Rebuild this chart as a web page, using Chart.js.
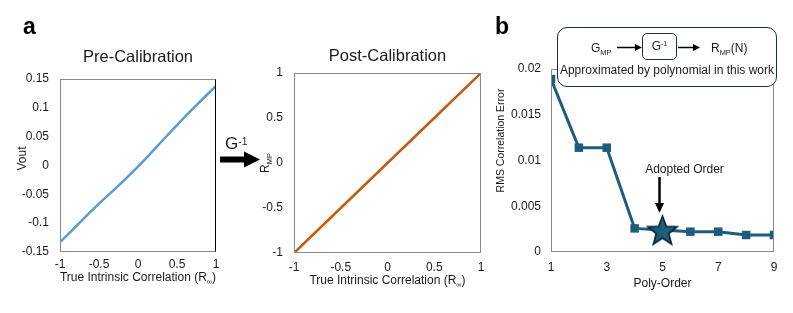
<!DOCTYPE html>
<html>
<head>
<meta charset="utf-8">
<script src="https://cdn.jsdelivr.net/npm/chart.js@4.4.1/dist/chart.umd.min.js"></script>
<style>
  body { margin: 0; background: #fff; font-family: 'Liberation Sans', Arial, sans-serif; color: #1a1a1a; }
  #fig { position: relative; width: 793px; height: 313px; overflow: hidden; }
  #fig canvas { position: absolute; top: 0; }
  .panel { position: absolute; top: 15px; font-weight: bold; font-size: 23px; line-height: 23px; color: #000; }
  #ginv { position: absolute; left: 225px; top: 134px; font-size: 17px; line-height: 20px; }
  #ginv sup, .box sup { font-size: 60%; vertical-align: top; position: relative; top: -2px; }
  #inset { position: absolute; left: 557px; top: 27px; width: 220px; height: 60px; box-sizing: border-box;
           border: 1.5px solid #17313f; border-radius: 10px; background: #fff; font-size: 12px; }
  #inset .t { position: absolute; line-height: 14px; white-space: nowrap; }
  #inset sub { font-size: 62%; vertical-align: baseline; position: relative; top: 3px; }
  #inset .box { position: absolute; left: 84px; top: 4.5px; width: 35px; height: 27px; box-sizing: border-box;
                border: 1.5px solid #17313f; border-radius: 5px; text-align: center; line-height: 24px; }
  svg { position: absolute; left: 0; top: 0; }
</style>
</head>
<body>
<div id="fig">
  <canvas id="preChart" width="240" height="313" style="left:0"></canvas>
  <canvas id="postChart" width="260" height="313" style="left:240px"></canvas>
  <canvas id="orderChart" width="303" height="313" style="left:490px"></canvas>

  <div class="panel" style="left:23px">a</div>
  <div class="panel" style="left:495px">b</div>
  <div id="ginv">G<sup>-1</sup></div>

  <div id="inset">
    <span class="t" style="left:33px;top:13px">G<sub>MP</sub></span>
    <div class="box">G<sup>-1</sup></div>
    <span class="t" style="left:153px;top:13px">R<sub>MP</sub>(N)</span>
    <span class="t" style="left:0;right:0;top:35px;text-align:center">Approximated by polynomial in this work</span>
  </div>

  <svg width="793" height="313">
    <rect x="220" y="156.5" width="26" height="6" fill="#000"/>
    <polygon points="244,151.5 260,159.5 244,167.5" fill="#000"/>
    <line x1="617" y1="47.5" x2="636" y2="47.5" stroke="#000" stroke-width="1.5"/>
    <polygon points="635,44 642,47.5 635,51" fill="#000"/>
    <line x1="678" y1="47.5" x2="694" y2="47.5" stroke="#000" stroke-width="1.5"/>
    <polygon points="693,44 700,47.5 693,51" fill="#000"/>
  </svg>
</div>

<script>
// ---- data ----
const preX = [-1, -0.75, -0.5, -0.25, 0, 0.25, 0.5, 0.75, 1];
const preY = [-0.133, -0.0995, -0.066, -0.035, -0.002, 0.034, 0.07, 0.1045, 0.138];
const preXTicks = [-1, -0.5, 0, 0.5, 1];
const preYTicks = [-0.15, -0.1, -0.05, 0, 0.05, 0.1, 0.15];

const postX = [-1, -0.5, 0, 0.5, 1];
const postY = [-1, -0.5, 0, 0.5, 1];
const postXTicks = [-1, -0.5, 0, 0.5, 1];
const postYTicks = [-1, -0.5, 0, 0.5, 1];

const polyOrder = [1, 2, 3, 4, 5, 6, 7, 8, 9];
const rmsError = [0.0189, 0.0114, 0.0114, 0.00258, 0.0024, 0.00222, 0.00222, 0.00186, 0.00186];
const orderXTicks = [1, 3, 5, 7, 9];
const orderYTicks = [0, 0.005, 0.01, 0.015, 0.02];
const adoptedOrder = 5;

const FONT = "'Liberation Sans', Arial, sans-serif";
const TEXT = '#1a1a1a';
const FRAME = '#8a8a8a';

// number labels like Excel: 0.1, -0.05, 0
const fmt = (v) => String(parseFloat(Number(v).toFixed(4)));

// text with subscripts, centred on (cx, cy)
function drawRich(ctx, parts, cx, cy, size, rot) {
  ctx.save();
  ctx.translate(cx, cy);
  ctx.rotate(rot);
  const fontFor = (p) => `${p.sub ? size * 0.62 : size}px ${FONT}`;
  let total = 0;
  parts.forEach((p) => { ctx.font = fontFor(p); total += ctx.measureText(p.t).width; });
  let x = -total / 2;
  ctx.fillStyle = TEXT;
  ctx.textAlign = 'left';
  ctx.textBaseline = 'alphabetic';
  parts.forEach((p) => {
    ctx.font = fontFor(p);
    ctx.fillText(p.t, x, size * 0.36 + (p.sub ? size * 0.24 : 0));
    x += ctx.measureText(p.t).width;
  });
  ctx.restore();
}

const axisTitles = {
  id: 'axisTitles',
  afterDraw(chart, args, opts) {
    const { ctx, chartArea: a } = chart;
    const x = opts.x, y = opts.y;
    if (x) drawRich(ctx, x.parts, (a.left + a.right) / 2, a.bottom + x.gap, x.size || 12, 0);
    if (y) drawRich(ctx, y.parts, a.left - y.gap, (a.top + a.bottom) / 2 + (y.shift || 0), y.size || 12, -Math.PI / 2);
  }
};

const frame = {
  id: 'frame',
  afterDatasetsDraw(chart, args, opts) {
    const { ctx, chartArea: a } = chart;
    const l = Math.round(a.left) + 0.5, r = Math.round(a.right) - 0.5;
    const t = Math.round(a.top) + 0.5, b = Math.round(a.bottom) - 0.5;
    ctx.save();
    ctx.lineWidth = 1;
    ctx.strokeStyle = opts.color || FRAME;
    ctx.strokeRect(l, t, r - l, b - t);
    if (opts.right) {
      ctx.strokeStyle = opts.right;
      ctx.beginPath(); ctx.moveTo(r, t); ctx.lineTo(r, b); ctx.stroke();
    }
    ctx.restore();
  }
};

const adopted = {
  id: 'adopted',
  afterDraw(chart, args, opts) {
    const pt = chart.getDatasetMeta(0).data[opts.index];
    if (!pt) return;
    const { ctx } = chart;
    const x = pt.x - 3, y = pt.y;
    ctx.save();
    ctx.strokeStyle = '#000';
    ctx.fillStyle = '#000';
    ctx.lineWidth = 2.5;
    ctx.beginPath(); ctx.moveTo(x, y - 53); ctx.lineTo(x, y - 26); ctx.stroke();
    ctx.beginPath(); ctx.moveTo(x - 4.5, y - 27); ctx.lineTo(x + 4.5, y - 27); ctx.lineTo(x, y - 17); ctx.closePath(); ctx.fill();
    ctx.font = `12px ${FONT}`;
    ctx.textAlign = 'center';
    ctx.textBaseline = 'middle';
    ctx.fillStyle = TEXT;
    ctx.fillText(opts.label, x + 25, y - 60);
    ctx.restore();
  }
};

// five-point star used as the marker for the adopted order
function makeStar(outer, inner, fill, stroke) {
  const c = document.createElement('canvas');
  c.width = c.height = Math.ceil(outer * 2 + 4);
  const g = c.getContext('2d');
  const cx = c.width / 2, cy = c.height / 2 + 1.5;
  g.beginPath();
  for (let i = 0; i < 10; i++) {
    const r = i % 2 === 0 ? outer : inner;
    const ang = -Math.PI / 2 + i * Math.PI / 5;
    g.lineTo(cx + r * Math.cos(ang), cy + r * Math.sin(ang));
  }
  g.closePath();
  g.fillStyle = fill;
  g.fill();
  g.lineWidth = 1.6;
  g.strokeStyle = stroke;
  g.stroke();
  return c;
}

function linScale(min, max, ticks, opts) {
  return {
    type: 'linear',
    min: min,
    max: max,
    grid: { display: false, drawTicks: false },
    border: { display: false },
    afterBuildTicks: (s) => { s.ticks = ticks.map((v) => ({ value: v })); },
    ticks: { color: TEXT, font: { size: 12 }, padding: opts.pad, callback: fmt, maxRotation: 0 },
    afterFit: (s) => { if (opts.width) s.width = opts.width; if (opts.height) s.height = opts.height; }
  };
}

Chart.defaults.font.family = FONT;
Chart.defaults.color = TEXT;

const baseOptions = {
  responsive: false,
  animation: false,
  devicePixelRatio: 1,
  events: []
};

// titles sit over the plot only (fullSize false), not over the whole canvas
const chartTitle = (text, below) => ({
  display: true,
  text: text,
  color: TEXT,
  fullSize: false,
  font: { size: 16.5, weight: 'normal' },
  padding: { top: 0, bottom: below }
});

// Pre-Calibration
new Chart(document.getElementById('preChart'), {
  type: 'line',
  data: {
    datasets: [{
      data: preX.map((x, i) => ({ x: x, y: preY[i] })),
      borderColor: '#5b9bd5',
      borderWidth: 2.5,
      pointRadius: 0,
      tension: 0.4
    }]
  },
  options: {
    ...baseOptions,
    layout: { padding: { left: 0, right: 24, top: 48, bottom: 28 } },
    plugins: {
      legend: { display: false },
      tooltip: { enabled: false },
      title: chartTitle('Pre-Calibration', 11.2),
      frame: { right: '#000' },
      axisTitles: {
        x: { parts: [{ t: 'True Intrinsic Correlation (R' }, { t: '\u221e', sub: true }, { t: ')' }], gap: 25 },
        y: { parts: [{ t: 'Vout' }], gap: 38, shift: -7 }
      }
    },
    scales: {
      x: linScale(-1, 1, preXTicks, { pad: 5, height: 33 }),
      y: linScale(-0.15, 0.15, preYTicks, { pad: 11, width: 60 })
    }
  },
  plugins: [frame, axisTitles]
});

// Post-Calibration
new Chart(document.getElementById('postChart'), {
  type: 'line',
  data: {
    datasets: [{
      data: postX.map((x, i) => ({ x: x, y: postY[i] })),
      borderColor: '#c55a11',
      borderWidth: 2.5,
      pointRadius: 0
    }]
  },
  options: {
    ...baseOptions,
    layout: { padding: { left: 0, right: 19, top: 47, bottom: 26 } },
    plugins: {
      legend: { display: false },
      tooltip: { enabled: false },
      title: chartTitle('Post-Calibration', 6.2),
      frame: {},
      axisTitles: {
        x: { parts: [{ t: 'True Intrinsic Correlation (R' }, { t: '\u221e', sub: true }, { t: ')' }], gap: 27 },
        y: { parts: [{ t: 'R' }, { t: 'MP', sub: true }], gap: 29 }
      }
    },
    scales: {
      x: linScale(-1, 1, postXTicks, { pad: 7, height: 34 }),
      y: linScale(-1, 1, postYTicks, { pad: 11, width: 54 })
    }
  },
  plugins: [frame, axisTitles]
});

// RMS error vs polynomial order
const lineBlue = '#1c5d7c';
const star = makeStar(15.5, 6.5, lineBlue, '#0b2230');

new Chart(document.getElementById('orderChart'), {
  type: 'line',
  data: {
    datasets: [{
      data: polyOrder.map((x, i) => ({ x: x, y: rmsError[i] })),
      borderColor: lineBlue,
      backgroundColor: lineBlue,
      borderWidth: 3,
      pointStyle: (c) => (polyOrder[c.dataIndex] === adoptedOrder ? star : 'rect'),
      pointRadius: 6,
      pointBorderWidth: 0,
      pointBackgroundColor: lineBlue
    }]
  },
  options: {
    ...baseOptions,
    layout: { padding: { left: 10, right: 19, top: 69, bottom: 23 } },
    plugins: {
      legend: { display: false },
      tooltip: { enabled: false },
      frame: {},
      adopted: { index: polyOrder.indexOf(adoptedOrder), label: 'Adopted Order' },
      axisTitles: {
        x: { parts: [{ t: 'Poly-Order' }], gap: 31 },
        y: { parts: [{ t: 'RMS Correlation Error' }], gap: 51, shift: -20, size: 10.5 }
      }
    },
    scales: {
      x: linScale(1, 9, orderXTicks, { pad: 8, height: 38 }),
      y: linScale(0, 0.02, orderYTicks, { pad: 10, width: 51 })
    }
  },
  plugins: [frame, axisTitles, adopted]
});
</script>
</body>
</html>
